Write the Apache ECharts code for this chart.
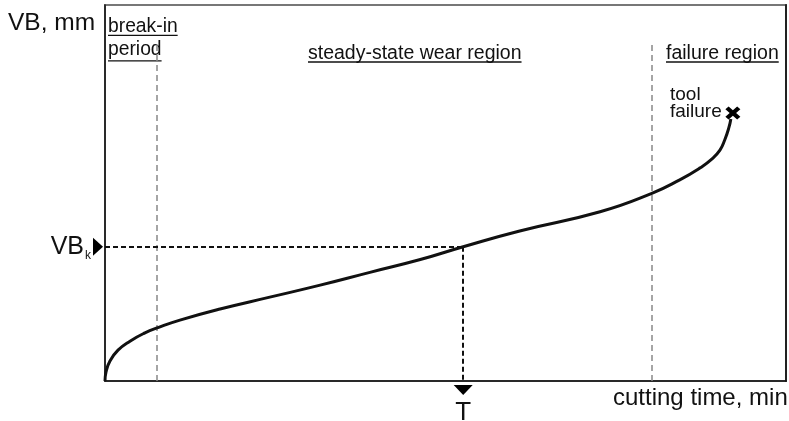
<!DOCTYPE html>
<html>
<head>
<meta charset="utf-8">
<script src="https://cdn.jsdelivr.net/npm/echarts@6/dist/echarts.min.js"></script>
<style>html,body{margin:0;padding:0;background:#fff}#c{width:789px;height:421px}</style>
</head>
<body>
<div id="c"></div>
<script>
// ---- data (arbitrary units: time 0..100, wear 0..100) ----
const wearTime = [0, 0.15, 0.73, 1.91, 3.67, 5.87, 7.78, 11.0, 16.9, 24.2, 31.6, 38.9, 46.3, 52.6, 60.9, 72.7, 80.3, 84.4, 87.4, 89.1, 90.3, 91.0, 91.6, 91.9];
const wearVB   = [0, 2.4, 5.3, 8.2, 10.6, 12.8, 14.2, 16.2, 19.15, 22.3, 25.5, 28.9, 32.3, 35.7, 39.9, 45.0, 49.9, 53.5, 56.7, 59.0, 61.4, 64.1, 67.3, 69.7];
const breakInEnd = 7.6;
const failureStart = 80.3;
const regionLineTop = 90.2;
const toolLifeT = 52.6;
const wearLimitVBk = 35.7;
const failurePoint = [92.2, 71.3];
const axisNames = ['cutting time, min', 'VB, mm'];
const regionNames = ['break-in', 'period', 'steady-state wear region', 'failure region'];
const failureText = ['tool', 'failure'];

const FONT = '"Liberation Sans", Arial, sans-serif';
const ctx = document.createElement('canvas').getContext('2d');
function textWidth(t, size) { ctx.font = size + 'px ' + FONT; return ctx.measureText(t).width; }

function label(text, x, baseline, size, underline) {
  const els = [{
    type: 'text', silent: true,
    style: { text: text, x: x, y: baseline - 0.35 * size, fill: '#111', font: size + 'px ' + FONT, verticalAlign: 'middle', align: 'left' }
  }];
  if (underline) {
    const w = textWidth(text, size);
    els.push({ type: 'line', silent: true, shape: { x1: x, y1: baseline + underline, x2: x + w, y2: baseline + underline }, style: { stroke: '#111', lineWidth: 1.3 } });
  }
  return els;
}

const graphics = [].concat(
  label(axisNames[1], 8, 31.5, 24.5),
  label(regionNames[0], 108, 33.3, 19.3, 2),
  label(regionNames[1], 108, 56.5, 19.3, 4.3),
  label(regionNames[2], 308, 60, 19.5, 2),
  label(regionNames[3], 666, 60, 19.5, 2),
  label(failureText[0], 670, 101.5, 19),
  label(failureText[1], 670, 118.3, 19),
  label(axisNames[0], 613, 407, 24)
);

const chart = echarts.init(document.getElementById('c'));
const gray = { color: '#888', width: 1.5, type: [6, 4] };
const black = { color: '#111', width: 2, type: [5, 3] };
chart.setOption({
  animation: false,
  grid: { left: 105, right: 3, top: 5, bottom: 40, show: true, borderColor: '#777', borderWidth: 2 },
  xAxis: { type: 'value', min: 0, max: 100, axisLine: { lineStyle: { color: '#111', width: 1.5 } }, axisTick: { show: false }, axisLabel: { show: false }, splitLine: { show: false } },
  yAxis: [
    { type: 'value', min: 0, max: 100, axisLine: { show: true, lineStyle: { color: '#111', width: 1.5 } }, axisTick: { show: false }, axisLabel: { show: false }, splitLine: { show: false } },
    { type: 'value', position: 'right', min: 0, max: 100, axisLine: { show: true, lineStyle: { color: '#222', width: 2 } }, axisTick: { show: false }, axisLabel: { show: false }, splitLine: { show: false } }
  ],
  series: [
    {
      type: 'line', data: wearTime.map((t, i) => [t, wearVB[i]]), smooth: 0.5, showSymbol: false, symbol: 'none',
      lineStyle: { color: '#111', width: 3 }, z: 5,
      markLine: {
        silent: true, symbol: ['none', 'none'], label: { show: false }, animation: false,
        data: [
          [{ coord: [breakInEnd, 0], lineStyle: gray }, { coord: [breakInEnd, regionLineTop] }],
          [{ coord: [failureStart, 0], lineStyle: gray }, { coord: [failureStart, regionLineTop] }],
          [{ coord: [0, wearLimitVBk], lineStyle: black }, { coord: [toolLifeT, wearLimitVBk] }],
          [{ coord: [toolLifeT, wearLimitVBk], lineStyle: black }, { coord: [toolLifeT, 0] }]
        ]
      }
    },
    {
      type: 'scatter', data: [[0, wearLimitVBk]], symbol: 'triangle', symbolSize: [18, 10], symbolRotate: -90, symbolOffset: [-7, 0],
      itemStyle: { color: '#000', opacity: 1 }, clip: false, silent: true,
      label: { show: true, position: 'left', distance: 2, formatter: '{a|VB}{b|k}', opacity: 1,
        rich: { a: { fontSize: 25, fontFamily: FONT, color: '#111' }, b: { fontSize: 12, fontFamily: FONT, color: '#111', padding: [18, 0, 0, 1] } } }
    },
    {
      type: 'scatter', data: [[toolLifeT, 0]], symbol: 'triangle', symbolSize: [19, 10], symbolRotate: 180, symbolOffset: [0, 9],
      itemStyle: { color: '#000', opacity: 1 }, clip: false, silent: true,
      label: { show: true, position: 'bottom', distance: 5, formatter: 'T', fontSize: 26, fontFamily: FONT, color: '#111', opacity: 1 }
    },
    {
      type: 'scatter', data: [failurePoint], symbol: 'path://M0,3 L3,0 L7,4 L11,0 L14,3 L10,7 L14,11 L11,14 L7,10 L3,14 L0,11 L4,7 Z',
      symbolSize: [15, 13], itemStyle: { color: '#000', opacity: 1 }, silent: true, z: 6
    }
  ],
  graphic: graphics
});
</script>
</body>
</html>
